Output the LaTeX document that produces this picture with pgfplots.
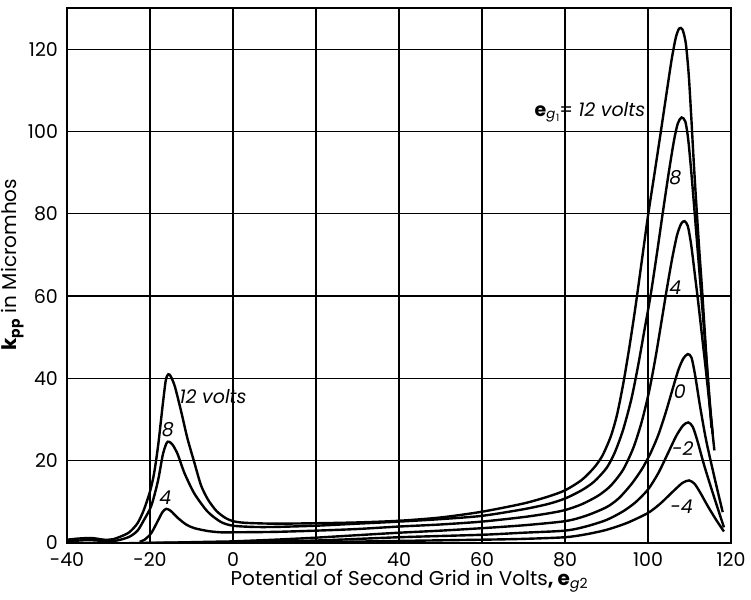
\documentclass[border=0pt]{standalone}
\usepackage{fontspec}
\setmainfont{Poppins}
\usepackage{pgfplots}
\pgfplotsset{compat=1.18}
\begin{document}
\begin{tikzpicture}[crv/.style={black, line width=1.2pt, smooth, tension=0.45}]
\begin{axis}[
  scale only axis, width=332pt, height=267.5pt,
  xmin=-40, xmax=120, ymin=0, ymax=130,
  xtick={-40,-20,...,120}, ytick={0,20,...,120},
  grid=major, major grid style={black, line width=0.6pt},
  axis line style={black, line width=0.9pt},
  major tick length=0pt,
  tick label style={font=\fontsize{9.5}{11}\selectfont},
  /pgf/number format/assume math mode=true,
  xticklabel style={yshift=-1pt},
  yticklabel style={xshift=-1pt},
  xlabel={Potential of Second Grid in Volts\textbf{, e}\textsubscript{\textit{g}2}},
  ylabel={\textbf{k}\textsubscript{\textbf{pp}} in Micromhos},
  xlabel style={font=\fontsize{10}{12}\selectfont, at={(axis description cs:0.516,-0.071)}, anchor=center},
  ylabel style={font=\fontsize{10}{12}\selectfont, at={(axis description cs:-0.082,0.52)}, anchor=center},
]
% eg1 = 12 volts
\addplot[crv] coordinates {(-40,0.8) (-37,1.1) (-34,1.2) (-31,0.8) (-29,0.9) (-27,1.6) (-25,2.6) (-23,4.8) (-21.5,8) (-20,12.5) (-19,17) (-18,24) (-17,33) (-16.2,39.5) (-15.6,41) (-15,40.5) (-14,38) (-12.5,32) (-11,25.5) (-9.3,19.5) (-7.7,14) (-6,10.5) (-4,7.8) (-2,6.2) (0,5.3) (3,4.9) (10,4.7) (20,4.8) (30,5.0) (40,5.4) (50,6.2) (60,7.6) (70,9.6) (76,11.3) (80,12.8) (84,15.3) (87,18.3) (89,21.2) (91,25.8) (92.5,31) (94,38.5) (95.5,47.5) (97,57.5) (98.5,68.5) (100,79.5) (101.6,90) (103.1,100) (104.5,109.5) (105.7,117.5) (106.7,122.8) (107.5,125) (108.3,124.8) (109.1,121.5) (109.8,114) (110.4,104) (111,93) (111.6,83) (112.3,72) (113,62) (113.7,51) (114.4,40) (115.3,28)};
% eg1 = 8
\addplot[crv] coordinates {(-40,0.4) (-35,0.7) (-31,0.5) (-28,0.6) (-25,1.5) (-23,3) (-21.5,5.5) (-19.7,9) (-18.1,15) (-16.9,21.5) (-16,24.3) (-15.4,24.6) (-14.5,23.8) (-13.3,21.5) (-11.7,17) (-9.3,12) (-6.1,7.6) (-2.9,5.1) (0,4.2) (5,3.9) (10,3.9) (20,4.2) (30,4.7) (40,5.2) (50,5.8) (60,6.6) (70,8.2) (76,9.5) (80,10.8) (84,12.8) (87,14.9) (90,18.2) (92,22) (94,27.5) (96,35) (97.6,43) (99.1,51.5) (100.6,60) (102.1,70) (103.6,80.5) (105,90) (106.3,98) (107.2,102) (108.1,103.4) (109,102.4) (109.7,98) (110.4,90.5) (111.1,82) (111.9,72) (112.7,62) (113.5,52) (114.3,42) (115,33) (115.6,26.5)};
% eg1 = 4
\addplot[crv] coordinates {(-22.5,0.3) (-21.3,0.8) (-19.7,2.4) (-18.1,5.4) (-17,7.5) (-16.1,8.3) (-15,7.8) (-13.3,6.1) (-11.3,4.5) (-9.3,3.6) (-6,2.9) (-3,2.6) (0,2.6) (10,2.7) (20,3.0) (30,3.4) (40,4.0) (50,4.5) (60,5.2) (70,6.3) (76,7.2) (80,8) (84,9.4) (88,11.5) (91,13.9) (94,17.8) (96.5,23.2) (98.5,29.5) (100.3,37) (101.8,45) (103.2,53.5) (104.5,61.5) (105.8,69) (107,74.8) (108,77.6) (108.8,78.2) (109.6,77) (110.4,72.5) (111.2,66) (112.1,58.5) (113,50.5) (114,41.5) (115,32) (116,22.5)};
% eg1 = 0
\addplot[crv] coordinates {(-22,0) (-15,0.1) (-5,0.3) (0,0.4) (10,0.8) (20,1.3) (30,1.9) (40,2.5) (50,3.0) (60,3.6) (70,4.3) (80,5.3) (85,6.6) (90,8.7) (93,10.9) (96,14.3) (98.5,17.9) (100.5,21.6) (102.5,26.3) (104.3,31.8) (105.9,37.3) (107.3,42) (108.5,44.8) (109.6,45.9) (110.5,45) (111.4,40.5) (112.5,33.5) (114,25) (116,16) (118,7.5)};
% eg1 = -2
\addplot[crv] coordinates {(-20,0) (0,0.2) (20,0.6) (40,1.4) (60,2.0) (70,2.5) (80,3.0) (85,4) (90,5.6) (94,7.7) (97,9.9) (100,13) (102.5,17) (104.8,21.8) (106.8,26) (108.4,28.5) (109.7,29.3) (110.8,28.2) (112,24.5) (113.5,19) (115.5,12.5) (118.3,3.8)};
% eg1 = -4
\addplot[crv] coordinates {(-25,0) (0,0) (20,0.2) (40,0.5) (60,0.8) (70,1.0) (80,1.4) (85,2.1) (90,3.2) (95,4.9) (100,7.3) (103,9.6) (106,12.5) (108.3,14.6) (109.9,15.2) (111.2,14.4) (112.5,12.4) (114.5,8.8) (116.5,5.5) (118.3,2.8)};
\begin{scope}[every node/.style={font=\fontsize{9.5}{11}\selectfont\itshape, inner sep=0pt}]
\node at (axis cs:86,104.6) {\upshape\textbf{e}\textsubscript{\textit{g}\kern0.5pt\raisebox{-1.5pt}{\tiny 1}}\kern-0.5pt=\ \itshape 12 volts};
\node at (axis cs:106.6,88.9) {8};
\node at (axis cs:106.6,62) {4};
\node at (axis cs:107.7,36.8) {0};
\node at (axis cs:108.4,22.9) {-2};
\node at (axis cs:108.1,8.9) {-4};
\node at (axis cs:-4.8,35.5) {12 volts};
\node at (axis cs:-15.7,27.5) {8};
\node at (axis cs:-16.3,11) {4};
\end{scope}
\end{axis}
\pgfresetboundingbox
\path ([xshift=-33.5pt,yshift=-28.5pt]current axis.south west) rectangle ([xshift=10pt,yshift=4pt]current axis.north east);
\end{tikzpicture}
\end{document}
